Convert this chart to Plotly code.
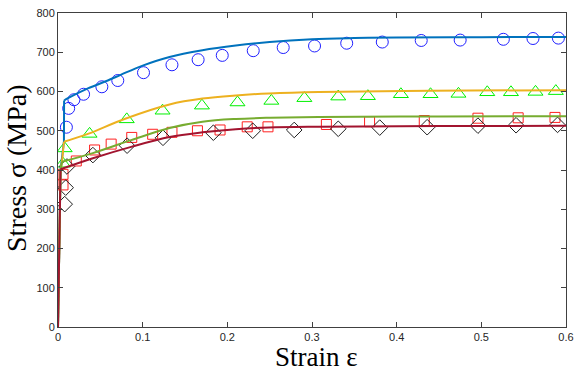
import plotly.graph_objects as go

# ---- experimental data (markers) ----
circ_strain = [0.0099, 0.0126, 0.0188, 0.0302, 0.0518, 0.0706, 0.101, 0.1346, 0.1655, 0.194,
               0.2306, 0.266, 0.303, 0.341, 0.383, 0.429, 0.475, 0.526, 0.561, 0.591]
circ_stress = [509, 557, 579, 593, 612, 628, 648, 668, 681, 692,
               704, 712, 716, 723, 726, 730, 731, 733, 735, 736]

tri_strain = [0.0059, 0.0079, 0.0373, 0.0812, 0.1235, 0.170, 0.212, 0.252, 0.291, 0.331,
              0.366, 0.405, 0.440, 0.473, 0.507, 0.535, 0.564, 0.588]
tri_stress = [416, 455, 492, 529, 551, 564, 572, 576, 583, 587,
              588, 593, 593, 594, 598, 598, 599, 601]

sq_strain = [0.0059, 0.0059, 0.0216, 0.0432, 0.0628, 0.0871, 0.1118, 0.1346, 0.1647, 0.1914,
             0.2235, 0.248, 0.317, 0.368, 0.4326, 0.496, 0.5435, 0.587]
sq_stress = [362, 389, 423, 451, 466, 483, 491, 496, 500, 502,
             510, 510, 516, 523, 526, 532, 533, 534]

dia_strain = [0.0079, 0.0091, 0.0106, 0.0412, 0.0816, 0.124, 0.1835, 0.230, 0.279, 0.331,
              0.380, 0.436, 0.496, 0.541, 0.590]
dia_stress = [313, 355, 409, 438, 462, 482, 495, 500, 502, 505,
              508, 509, 513, 514, 515]

# ---- simulated curves: elastic part + plastic part ----
blue_el_strain = [0.0, 0.003, 0.007, 0.0072]
blue_el_stress = [0, 400, 472, 577]
blue_pl_strain = [0.0072, 0.0118, 0.0353, 0.0588, 0.0746, 0.1, 0.1317, 0.1706, 0.21, 0.25,
                  0.3, 0.35, 0.4, 0.5, 0.6]
blue_pl_stress = [577, 583, 608, 628, 643, 666, 688, 705, 717, 726,
                  733, 736, 737.5, 738.5, 739]

orange_el_strain = [0.0, 0.003, 0.0047, 0.007]
orange_el_stress = [0, 400, 421, 472]
orange_pl_strain = [0.007, 0.0353, 0.0785, 0.1317, 0.1706, 0.21, 0.249, 0.308, 0.44, 0.6]
orange_pl_stress = [472, 492, 530, 567, 582, 590, 595, 599, 602, 603.5]

green_el_strain = [0.0, 0.003, 0.0047]
green_el_stress = [0, 400, 421]
green_pl_strain = [0.0047, 0.0412, 0.0864, 0.1317, 0.1706, 0.21, 0.249, 0.308, 0.45, 0.6]
green_pl_stress = [421, 443, 476, 507, 523, 530, 533, 535, 536.5, 537]

red_el_strain = [0.0, 0.003]
red_el_stress = [0, 402]
red_pl_strain = [0.003, 0.0412, 0.0864, 0.1317, 0.1706, 0.21, 0.249, 0.308, 0.45, 0.6]
red_pl_stress = [402, 430, 459, 484, 496, 504, 508.5, 510.5, 512, 512.5]

x_ticks = [0, 0.1, 0.2, 0.3, 0.4, 0.5, 0.6]
x_tick_labels = ["0", "0.1", "0.2", "0.3", "0.4", "0.5", "0.6"]
y_ticks = [0, 100, 200, 300, 400, 500, 600, 700, 800]
y_tick_labels = [str(v) for v in y_ticks]

fig = go.Figure()

def add_markers(xs, ys, symbol, color, size):
    fig.add_trace(go.Scatter(x=xs, y=ys, mode="markers",
                             marker=dict(symbol=symbol, size=size, color=color,
                                         line=dict(color=color, width=1)),
                             showlegend=False, hoverinfo="skip"))

add_markers(circ_strain, circ_stress, "circle-open", "#2020ff", 12)
add_markers(tri_strain, tri_stress, "triangle-up-open", "#00f000", 13)
add_markers(sq_strain, sq_stress, "square-open", "#ff2020", 10)
add_markers(dia_strain, dia_stress, "diamond-open", "#202020", 12)

def add_curve(xe, ye, xp, yp, color):
    fig.add_trace(go.Scatter(x=xe, y=ye, mode="lines", line=dict(color=color, width=2),
                             showlegend=False, hoverinfo="skip"))
    fig.add_trace(go.Scatter(x=xp, y=yp, mode="lines",
                             line=dict(color=color, width=2, shape="spline", smoothing=1.0),
                             showlegend=False, hoverinfo="skip"))

add_curve(blue_el_strain, blue_el_stress, blue_pl_strain, blue_pl_stress, "#0072BD")
add_curve(orange_el_strain, orange_el_stress, orange_pl_strain, orange_pl_stress, "#EDB120")
add_curve(green_el_strain, green_el_stress, green_pl_strain, green_pl_stress, "#77AC30")
add_curve(red_el_strain, red_el_stress, red_pl_strain, red_pl_stress, "#A2142F")

axis_common = dict(showgrid=False, zeroline=False, showline=True, linecolor="#404040",
                   linewidth=1, mirror="ticks", ticks="inside", ticklen=5, tickcolor="#404040",
                   automargin=False,
                   tickfont=dict(family="Liberation Sans, Arial, sans-serif", size=11,
                                 color="#262626"))

fig.update_layout(
    width=581, height=374,
    margin=dict(l=58, r=15, t=13, b=47),
    paper_bgcolor="white", plot_bgcolor="white",
    xaxis=dict(range=[0, 0.6], tickvals=x_ticks, ticktext=x_tick_labels, **axis_common),
    yaxis=dict(range=[0, 800], tickvals=y_ticks, ticktext=y_tick_labels, **axis_common),
    annotations=[
        dict(text="Strain ε", xref="paper", yref="paper", x=0.508, y=-0.096,
             xanchor="center", yanchor="middle", showarrow=False,
             font=dict(family="Liberation Serif, Times New Roman, serif", size=27,
                       color="black")),
        dict(text="Stress σ (MPa)", xref="paper", yref="paper", x=-0.083, y=0.506,
             xanchor="center", yanchor="middle", textangle=-90, showarrow=False,
             font=dict(family="Liberation Serif, Times New Roman, serif", size=28,
                       color="black")),
    ],
)

fig.write_html("out.html", config={"displayModeBar": False},
               post_script="document.body.style.margin='0';")
